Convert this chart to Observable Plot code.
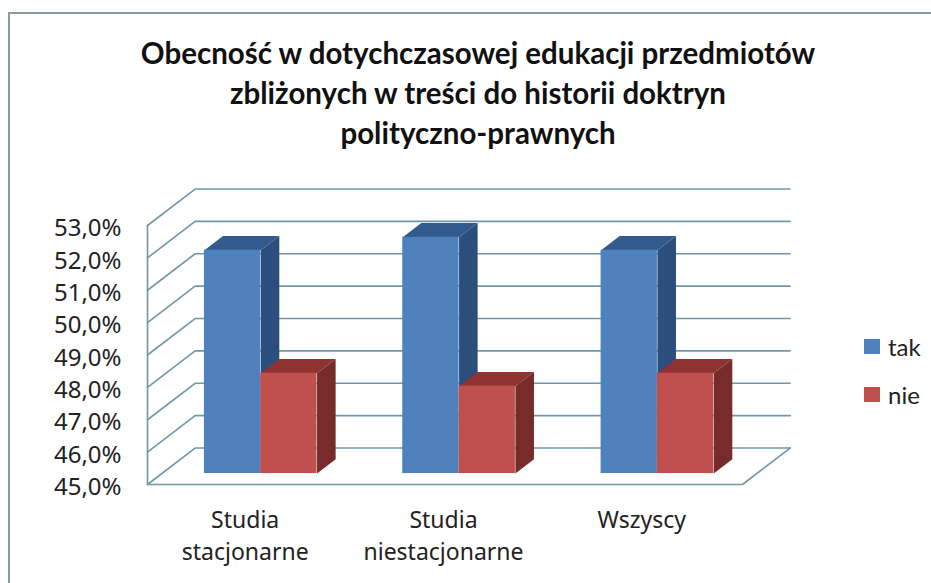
<!DOCTYPE html>
<html lang="pl">
<head>
<meta charset="utf-8">
<script src="https://cdn.jsdelivr.net/npm/d3@7"></script>
<script src="https://cdn.jsdelivr.net/npm/@observablehq/plot@0.6"></script>
<style>
html,body{margin:0;padding:0;background:#fff;}
#page{position:relative;width:931px;height:583px;overflow:hidden;font-family:Lato,sans-serif;color:#111;}
#frame{position:absolute;left:8px;top:12px;width:1000px;height:700px;border-left:2px solid #8c9c9e;border-top:2px solid #8c9c9e;}
#title{position:absolute;left:0;top:33px;width:956px;text-align:center;font-weight:700;font-size:29.5px;line-height:40px;white-space:pre-line;}
#chart{position:absolute;left:0;top:170px;}
.key{position:absolute;left:864px;display:flex;align-items:center;font-size:24px;color:#222;}
.key i{display:block;width:16px;height:15px;margin-right:8px;}
</style>
</head>
<body>
<div id="page">
<div id="frame"></div>
<div id="title"></div>
<div id="chart"></div>
<div class="key" id="k0" style="top:332px"></div>
<div class="key" id="k1" style="top:380px"></div>
</div>
<script>
const titleLines = ["Obecność w dotychczasowej edukacji przedmiotów", "zbliżonych w treści do historii doktryn", "polityczno-prawnych"];
const categories = ["Studia\nstacjonarne", "Studia\nniestacjonarne", "Wszyscy"];
const tak = [51.9, 52.3, 51.9];
const nie = [48.1, 47.7, 48.1];
const seriesNames = ["tak", "nie"];
const yTicks = [45, 46, 47, 48, 49, 50, 51, 52, 53];

const palette = {
  "tak front": "#4f81bd", "tak top": "#335a8c", "tak side": "#2b4e7c",
  "nie front": "#c0504d", "nie top": "#8e3330", "nie side": "#772c2b"
};

// Oblique projection: depth d (0..1) shifts a point along x and y in data units.
const depthX = 0.24, depthY = 1.127;
const px = (c, d) => c + d * depthX;
const py = (v, d) => v + d * depthY;
const barFrontDepth = 0.30, barBackDepth = 0.69;
const gapWidth = 0.215, barWidth = 0.284;

const base = 45, nCats = categories.length;

// Wall, grid and floor
const grid = yTicks.flatMap(v => [
  {k: v, x: px(0, 0), y: py(v, 0)},
  {k: v, x: px(0, 1), y: py(v, 1)},
  {k: v, x: px(nCats, 1), y: py(v, 1)}
]);
const frameLines = [
  {k: "front", x: px(0, 0), y: py(53, 0)},
  {k: "front", x: px(0, 0), y: py(base, 0)},
  {k: "front", x: px(nCats, 0), y: py(base, 0)},
  {k: "front", x: px(nCats, 1), y: py(base, 1)}
];

// Bars
const bars = categories.flatMap((c, i) => [tak[i], nie[i]].map((v, s) => {
  const x0 = i + gapWidth + s * barWidth;
  return {series: seriesNames[s], i, v, x0, x1: x0 + barWidth};
}));
const poly = (id, key, pts) => pts.map(([c, d, v]) => ({id, key, x: px(c, d), y: py(v, d)}));
const faces = bars.flatMap((b, n) => {
  const f = barFrontDepth, k = barBackDepth;
  return [
    ...poly(n + " side", b.series + " side", [[b.x1, f, base], [b.x1, k, base], [b.x1, k, b.v], [b.x1, f, b.v]]),
    ...poly(n + " top", b.series + " top", [[b.x0, f, b.v], [b.x1, f, b.v], [b.x1, k, b.v], [b.x0, k, b.v]])
  ];
});
const axisColor = "#6f98a4";

const plot = Plot.plot({
  width: 931,
  height: 413,
  marginLeft: 147,
  marginRight: 189,
  marginTop: 55,
  marginBottom: 99,
  style: {background: "transparent", overflow: "visible"},
  x: {domain: [0, nCats], axis: null},
  y: {domain: [45, 53], axis: null},
  color: {type: "ordinal", domain: Object.keys(palette), range: Object.values(palette)},
  marks: [
    Plot.line(grid, {x: "x", y: "y", z: "k", stroke: axisColor, strokeWidth: 1.6}),
    Plot.line(frameLines, {x: "x", y: "y", z: "k", stroke: axisColor, strokeWidth: 1.6}),
    Plot.axisY({ticks: yTicks, tickSize: 0, tickPadding: 26, label: null,
      tickFormat: v => v.toFixed(1).replace(".", ",") + "%",
      fontSize: 24, fill: "#222", dy: 3, marginLeft: 147}),
    Plot.line(faces, {x: "x", y: "y", z: "id", fill: "key", stroke: null}),
    Plot.rect(bars, {
      x1: d => px(d.x0, barFrontDepth), x2: d => px(d.x1, barFrontDepth),
      y1: () => py(base, barFrontDepth), y2: d => py(d.v, barFrontDepth),
      fill: d => d.series + " front", inset: 0
    }),
    Plot.text(categories, {
      x: (d, i) => i + 0.5, y: base, text: d => d, lineAnchor: "top", dy: 21, dx: -1.5,
      fontSize: 23, lineHeight: 1.39, fill: "#222"
    })
  ]
});
document.getElementById("chart").append(plot);
document.getElementById("title").textContent = titleLines.join("\n");
seriesNames.forEach((s, i) => {
  const el = document.getElementById("k" + i);
  const sw = document.createElement("i");
  sw.style.background = palette[s + " front"];
  el.append(sw, s);
});
</script>
</body>
</html>
